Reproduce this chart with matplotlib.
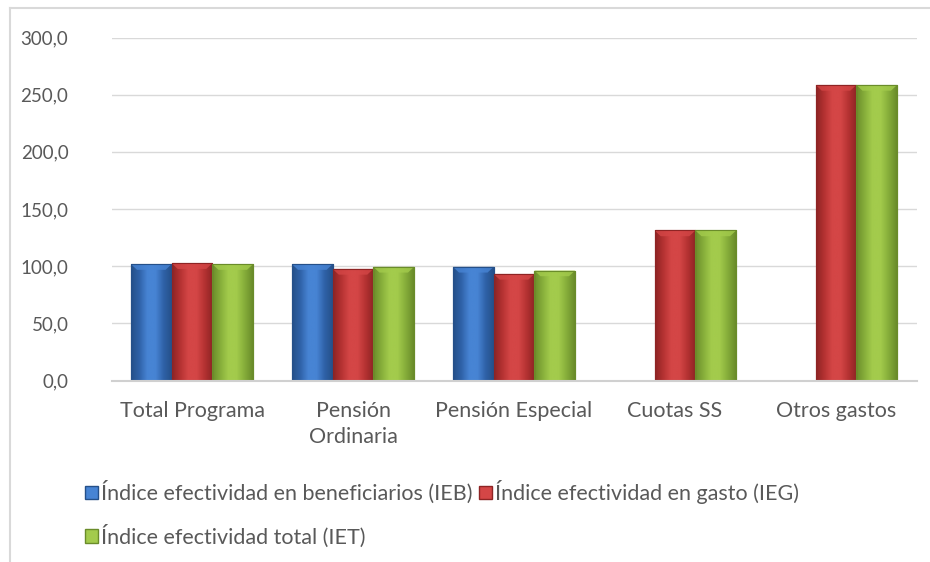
import numpy as np
import matplotlib
matplotlib.use("Agg")
import matplotlib.pyplot as plt
from matplotlib.patches import Patch, Rectangle
from matplotlib.lines import Line2D
from matplotlib.colors import LinearSegmentedColormap

categories = ["Total Programa", "Pensión\nOrdinaria", "Pensión Especial", "Cuotas SS", "Otros gastos"]
ieb = [101.8, 101.8, 99.4, np.nan, np.nan]
ieg = [102.6, 97.6, 93.2, 131.2, 258.5]
iet = [101.8, 99.4, 96.2, 131.2, 258.5]
series_names = ["Índice efectividad en beneficiarios (IEB)",
                "Índice efectividad en gasto (IEG)",
                "Índice efectividad total (IET)"]
yticks = [0, 50, 100, 150, 200, 250, 300]
ytick_labels = ["0,0", "50,0", "100,0", "150,0", "200,0", "250,0", "300,0"]

colors = [("#2F62A8", "#4784D4", "#255089"),
          ("#B53232", "#D44646", "#8E2424"),
          ("#86AE3A", "#A3CB4C", "#6A8C2A")]

plt.rcParams['font.family'] = ['Lato', 'DejaVu Sans']
fig = plt.figure(figsize=(9.3, 5.62), dpi=100)
fig.patch.set_facecolor("white")
ax = fig.add_axes([111.5/930, 1-380.5/562, 805/930, 343/562])

x = np.arange(len(categories))
w = 0.253
for i, (vals, name) in enumerate(zip([ieb, ieg, iet], series_names)):
    base, light, dark = colors[i]
    bars = ax.bar(x + (i-1)*w, vals, w, color=base, edgecolor=dark, linewidth=0.8, zorder=3, label=name)
    cmap = LinearSegmentedColormap.from_list("c%d" % i, [dark, base, light, light, base, dark])
    grad = np.linspace(0, 1, 64).reshape(1, -1)
    for b in bars:
        h = b.get_height()
        if not np.isfinite(h) or h <= 0:
            continue
        x0 = b.get_x(); bw = b.get_width()
        im = ax.imshow(grad, extent=[x0, x0+bw, 0, h], aspect='auto', cmap=cmap, zorder=3.5,
                       interpolation='bicubic')
        im.set_clip_path(b)
        ax.fill([x0, x0+bw, x0+bw*0.85, x0+bw*0.15], [h, h, h-5, h-5], color=light, alpha=0.8,
                zorder=4, linewidth=0)
        ax.add_patch(Rectangle((x0, 0), bw, h, fill=False, edgecolor=dark, linewidth=0.8, zorder=4.5))

ax.set_xlim(-0.5, len(categories)-0.5)
ax.set_ylim(0, 300)
ax.set_yticks(yticks)
ax.set_yticklabels(ytick_labels)
ax.set_xticks(x)
ax.set_xticklabels(categories, linespacing=1.35)
ax.yaxis.grid(True, color="#D9D9D9", linewidth=1, zorder=0)
ax.set_axisbelow(True)
for s in ["top", "right", "left"]:
    ax.spines[s].set_visible(False)
ax.spines["bottom"].set_color("#D0D0D0")
ax.spines["bottom"].set_linewidth(1.5)
ax.spines["bottom"].set_zorder(5)
ax.tick_params(axis='both', length=0, labelcolor="#595959")
ax.tick_params(axis='y', pad=31, labelsize=13.5)
ax.tick_params(axis='x', pad=15, labelsize=15.5)

fig.add_artist(Line2D([10/930, 10/930], [0, 1-8/562], color="#D9D9D9", linewidth=1.5, transform=fig.transFigure))
fig.add_artist(Line2D([10/930, 1], [1-8/562, 1-8/562], color="#D9D9D9", linewidth=1.5, transform=fig.transFigure))

handles = [Patch(facecolor=colors[0][1], edgecolor=colors[0][2]),
           Patch(facecolor=colors[2][1], edgecolor=colors[2][2]),
           Patch(facecolor=colors[1][1], edgecolor=colors[1][2])]
labels = [series_names[0], series_names[2], series_names[1]]
fig.legend(handles, labels, ncol=2, loc="upper left", bbox_to_anchor=(85/930, 1-480/562),
           frameon=False, fontsize=15.5, labelcolor="#595959", handlelength=0.6, handleheight=0.6,
           handletextpad=0.15, columnspacing=0.3, labelspacing=0.95, borderpad=0, borderaxespad=0)

fig.savefig("out.png", dpi=100, facecolor="white")
